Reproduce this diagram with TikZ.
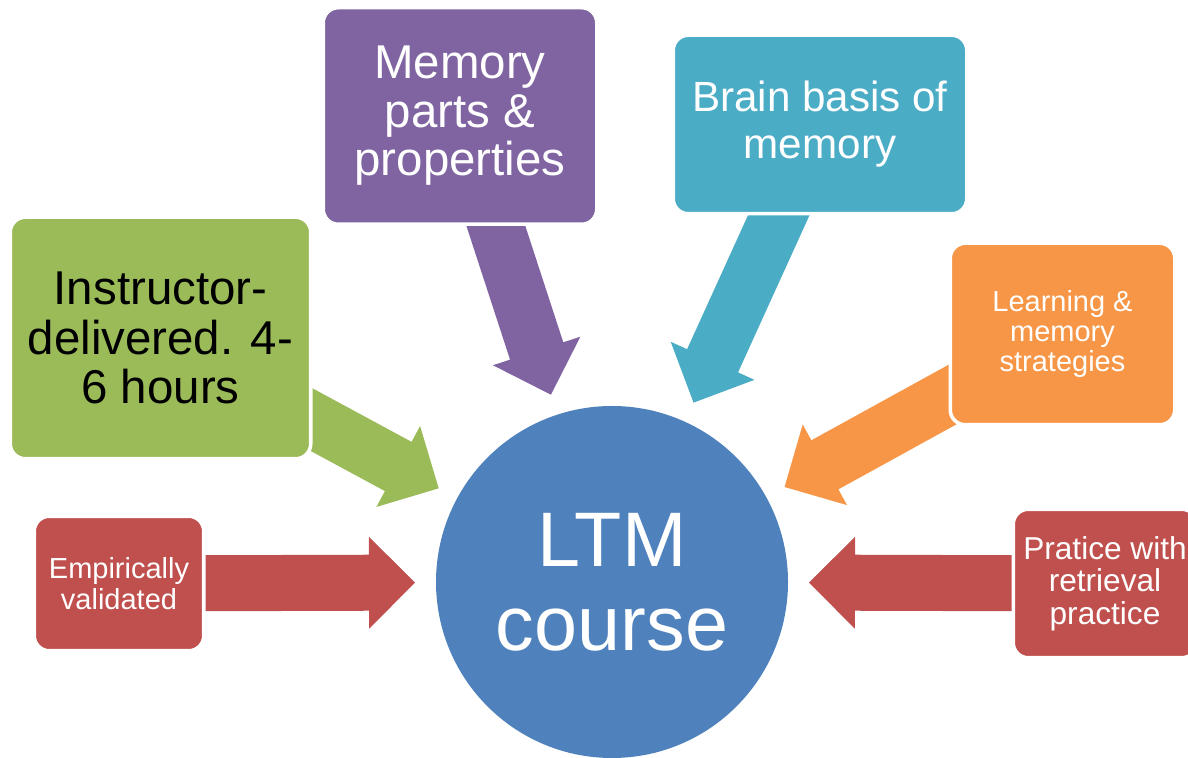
\documentclass[tikz,border=0pt]{standalone}
\usepackage{fontspec}
\setmainfont{Liberation Sans}
\usetikzlibrary{calc,backgrounds}
\definecolor{ltmblue}{HTML}{4F81BD}
\definecolor{ltmgreen}{HTML}{9BBB59}
\definecolor{ltmpurple}{HTML}{8064A2}
\definecolor{ltmteal}{HTML}{4BACC6}
\definecolor{ltmorange}{HTML}{F79646}
\definecolor{ltmred}{HTML}{C0504D}

\begin{document}
\begin{tikzpicture}
  \tikzstyle{topic}=[rectangle,rounded corners=0.3cm,draw=white,line width=2pt,align=center,text=white,inner sep=2pt]
  \useasboundingbox (0,0) rectangle (23.76,15.16);
  \node[circle,fill=ltmblue,minimum size=7.04cm,text=white,align=center,font=\fontsize{44}{48}\selectfont] (ltm) at (12.24,3.52) {LTM\\course};
  \node[topic,fill=ltmgreen,text=black,minimum width=6.01cm,minimum height=4.83cm,font=\fontsize{27}{28}\selectfont] (instr) at (3.21,8.40) {Instructor-\\delivered. 4-\\6 hours};
  \node[topic,fill=ltmpurple,minimum width=5.47cm,minimum height=4.33cm,font=\fontsize{27}{27.6}\selectfont] (parts) at (9.20,12.84) {Memory\\parts \&\\properties};
  \node[topic,fill=ltmteal,minimum width=5.87cm,minimum height=3.57cm,font=\fontsize{24}{26.7}\selectfont] (brain) at (16.40,12.67) {Brain basis of\\memory};
  \node[topic,fill=ltmorange,minimum width=4.49cm,minimum height=3.63cm,font=\fontsize{16.5}{17}\selectfont] (strat) at (21.25,8.48) {Learning \&\\memory\\strategies};
  \node[topic,fill=ltmred,minimum width=3.39cm,minimum height=2.69cm,font=\fontsize{16.5}{17.6}\selectfont] (valid) at (2.38,3.49) {Empirically\\validated};
  \node[topic,fill=ltmred,minimum width=3.67cm,minimum height=2.97cm,font=\fontsize{18}{18.5}\selectfont] (retr) at (22.10,3.49) {Pratice with\\retrieval\\practice};
  % block arrows, tails hidden under the boxes
  \begin{scope}[on background layer]
    \foreach \src/\col in {instr/ltmgreen,parts/ltmpurple,brain/ltmteal,strat/ltmorange,valid/ltmred,retr/ltmred} {
      \coordinate (tip-\src) at ($(ltm.center)!3.94cm!(\src.center)$);
      \coordinate (base-\src) at ($(tip-\src)!0.92cm!(\src.center)$);
      \fill[\col] ($(\src.center)!0.56cm!90:(tip-\src)$) -- ($(base-\src)!0.56cm!90:(tip-\src)$)
        -- ($(base-\src)!0.92cm!90:(tip-\src)$) -- (tip-\src) -- ($(base-\src)!0.92cm!-90:(tip-\src)$)
        -- ($(base-\src)!0.56cm!-90:(tip-\src)$) -- ($(\src.center)!0.56cm!-90:(tip-\src)$) -- cycle;
    }
  \end{scope}
\end{tikzpicture}
\end{document}
